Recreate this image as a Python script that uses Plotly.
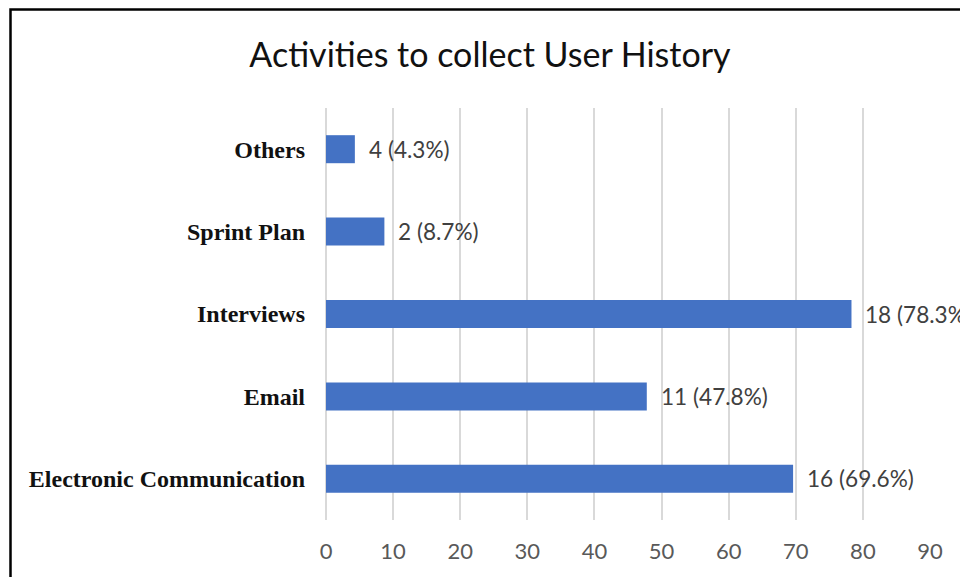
import plotly.graph_objects as go

categories = ["Others", "Sprint Plan", "Interviews", "Email", "Electronic Communication"]
counts = [4, 2, 18, 11, 16]
percents = [4.3, 8.7, 78.3, 47.8, 69.6]
x_ticks = [0, 10, 20, 30, 40, 50, 60, 70, 80, 90]
title_text = "Activities to collect User History"

W, H = 960, 577
L, R, T, B = 326, 30, 108, 57
pw, ph = W - L - R, H - T - B

fig = go.Figure()
fig.add_trace(go.Bar(
    x=percents, y=categories, orientation="h",
    marker=dict(color="#4472C4", line=dict(width=0)),
    width=0.34, hoverinfo="skip",
))

for c, n, p in zip(categories, counts, percents):
    fig.add_annotation(
        x=p, y=c, xref="x", yref="y",
        text=f"{n} ({p}%)", showarrow=False,
        xanchor="left", yanchor="middle", xshift=12,
        font=dict(family="Lato", size=22.6, color="#404040"),
    )

def px_x(v):
    return (v - L) / pw

def px_y(v):
    return (H - B - v) / ph

fig.add_shape(type="rect", xref="paper", yref="paper",
              x0=px_x(10.5), x1=px_x(1100), y0=px_y(9.5), y1=px_y(700),
              line=dict(color="#000000", width=2.5), fillcolor="rgba(0,0,0,0)",
              layer="above")

fig.update_layout(
    width=W, height=H,
    margin=dict(l=L, r=R, t=T, b=B, pad=0),
    paper_bgcolor="white", plot_bgcolor="white",
    showlegend=False,
    title=dict(text=title_text, x=490 / W, xanchor="center",
               y=1 - 55 / H, yanchor="middle",
               font=dict(family="Lato", size=34, color="#111111")),
    xaxis=dict(range=[0, 90], tickvals=x_ticks, showgrid=True,
               gridcolor="#d9d9d9", gridwidth=2, zeroline=True,
               zerolinecolor="#d9d9d9", zerolinewidth=2, showline=False,
               ticks="", ticklabelstandoff=16, fixedrange=True,
               tickfont=dict(family="Lato", size=22, color="#595959")),
    yaxis=dict(autorange="reversed", showgrid=False, zeroline=False,
               showline=False, ticks="", ticklabelstandoff=20, fixedrange=True,
               tickfont=dict(family="Liberation Serif", size=24, color="#111111",
                             weight="bold")),
    bargap=0.66,
)

fig.write_html("out.html",
               config={"displayModeBar": False, "staticPlot": True},
               post_script="document.body.style.margin='0px';document.body.style.overflow='hidden';")
